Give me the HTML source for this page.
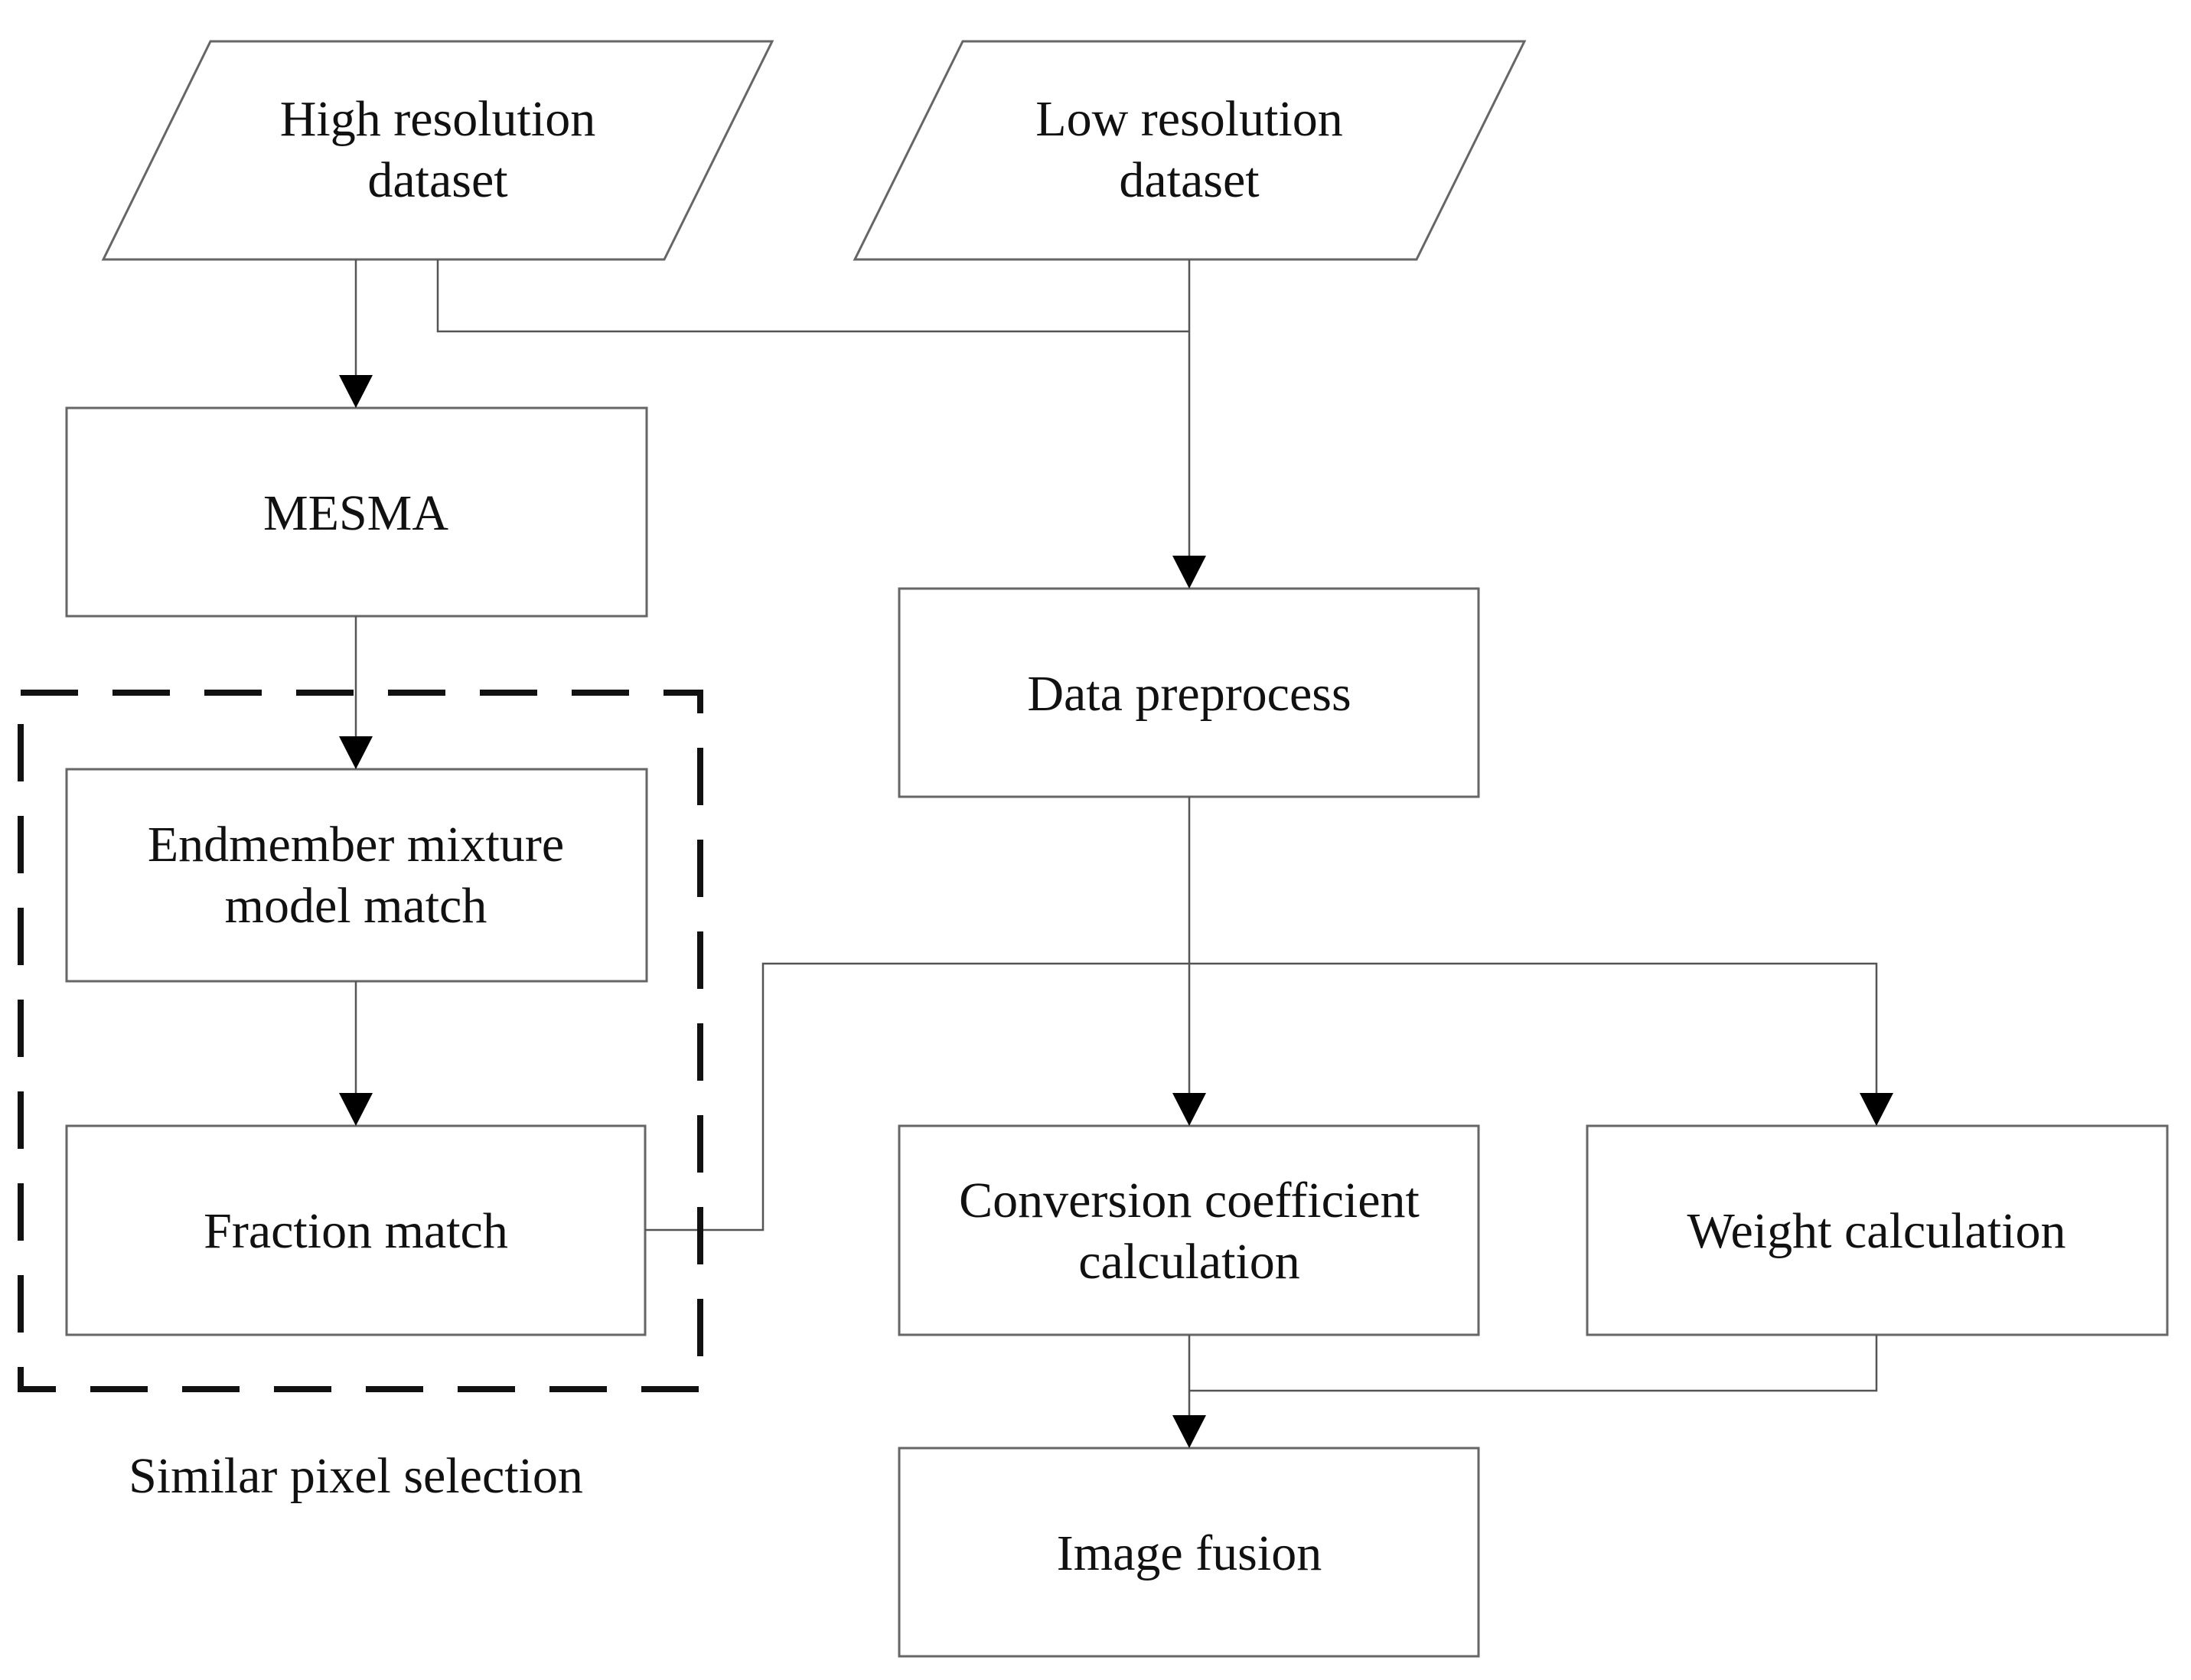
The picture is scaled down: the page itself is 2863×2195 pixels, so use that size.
<!DOCTYPE html>
<html><head><meta charset="utf-8"><style>
html,body{margin:0;padding:0;background:#fff;}
svg{display:block;}
text{font-family:"Liberation Serif",serif;font-size:66px;fill:#111;text-anchor:middle;}
</style></head><body>
<svg width="2863" height="2195" viewBox="0 0 2863 2195" xmlns="http://www.w3.org/2000/svg">
<g fill="#fff" stroke="#666" stroke-width="3">
<polygon points="275,54 1009,54 868,339 135,339"/>
<polygon points="1258,54 1992,54 1851,339 1117,339"/>
<rect x="87" y="533" width="758" height="272"/>
<rect x="87" y="1005" width="758" height="277"/>
<rect x="87" y="1471" width="756" height="273"/>
<rect x="1175" y="769" width="757" height="272"/>
<rect x="1175" y="1471" width="757" height="273"/>
<rect x="2074" y="1471" width="758" height="273"/>
<rect x="1175" y="1892" width="757" height="272"/>
</g>
<g fill="none" stroke="#555" stroke-width="2.5">
<line x1="465" y1="339" x2="465" y2="490"/>
<polyline points="572,339 572,433 1554,433"/>
<line x1="1554" y1="339" x2="1554" y2="728"/>
<line x1="465" y1="805" x2="465" y2="964"/>
<line x1="465" y1="1282" x2="465" y2="1430"/>
<line x1="1554" y1="1041" x2="1554" y2="1430"/>
<polyline points="843,1607 997,1607 997,1259 2452,1259 2452,1430"/>
<line x1="1554" y1="1744" x2="1554" y2="1851"/>
<polyline points="2452,1744 2452,1817 1554,1817"/>
</g>
<g fill="#000">
<polygon points="443,490 487,490 465,533"/>
<polygon points="443,962 487,962 465,1005"/>
<polygon points="443,1428 487,1428 465,1471"/>
<polygon points="1532,726 1576,726 1554,769"/>
<polygon points="1532,1428 1576,1428 1554,1471"/>
<polygon points="2430,1428 2474,1428 2452,1471"/>
<polygon points="1532,1849 1576,1849 1554,1892"/>
</g>
<rect x="27" y="905" width="888" height="910" fill="none" stroke="#111" stroke-width="8" stroke-dasharray="75,45"/>
<text x="572" y="177">High resolution</text>
<text x="572" y="257">dataset</text>
<text x="1554" y="177">Low resolution</text>
<text x="1554" y="257">dataset</text>
<text x="465" y="692">MESMA</text>
<text x="465" y="1125">Endmember mixture</text>
<text x="465" y="1205">model match</text>
<text x="465" y="1630">Fraction match</text>
<text x="1554" y="928">Data preprocess</text>
<text x="1554" y="1590">Conversion coefficient</text>
<text x="1554" y="1670">calculation</text>
<text x="2452" y="1630">Weight calculation</text>
<text x="1554" y="2051">Image fusion</text>
<text x="465" y="1950">Similar pixel selection</text>
</svg>
</body></html>
